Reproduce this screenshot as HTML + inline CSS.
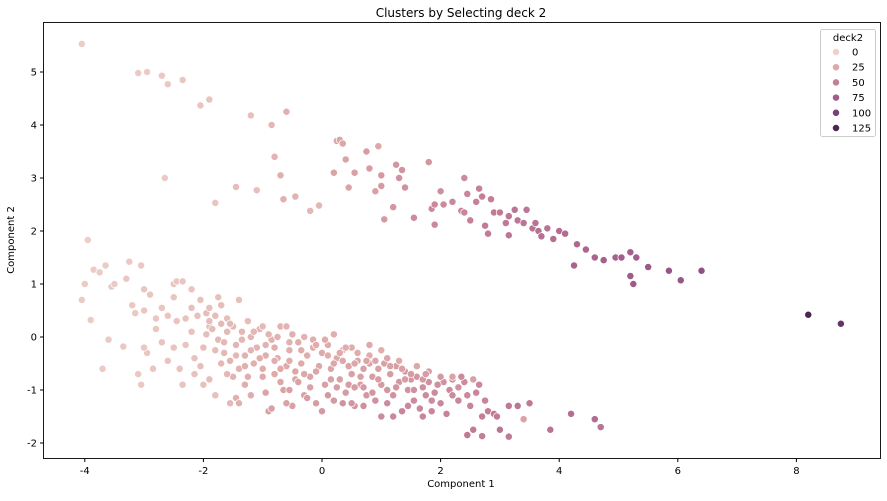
<!DOCTYPE html>
<html><head><meta charset="utf-8"><style>
body{margin:0;background:#fff;font-family:"Liberation Sans","DejaVu Sans",sans-serif;}
svg text{font-family:"DejaVu Sans","Liberation Sans",sans-serif;}
</style></head><body>
<svg id="chart" width="887" height="496">
<rect x="0" y="0" width="887" height="496" fill="#fff"/>
<text x="461" y="17" font-size="12" text-anchor="middle">Clusters by Selecting deck 2</text>
<text x="461" y="487" font-size="10" text-anchor="middle">Component 1</text>
<text x="14" y="240" font-size="10" text-anchor="middle" transform="rotate(-90 14 240)">Component 2</text>
<g id="ticks"></g>
<g id="points"></g>
<rect x="43.5" y="22.5" width="837" height="436" fill="none" stroke="#000" stroke-width="0.9"/>
<g id="legend"></g>
</svg>
<script>
const xTicks=[-4,-2,0,2,4,6,8];
const yTicks=[-2,-1,0,1,2,3,4,5];
const legendValues=[0,25,50,75,100,125];
const comp1=[-4.05,-3.1,-2.95,-2.7,-2.6,-2.35,-2.05,-1.9,-1.2,-0.85,-0.6,-2.65,-1.8,-1.45,-1.1,-0.8,-0.7,-0.65,-0.45,-0.2,-0.05,0.2,0.25,0.3,0.35,0.4,0.45,0.55,0.75,0.8,0.9,0.95,1.0,1.0,1.05,1.2,1.25,1.3,1.35,1.4,1.55,1.8,1.85,1.9,1.9,2.0,2.05,2.2,2.35,2.4,2.4,2.45,2.5,2.6,2.65,2.7,2.75,2.8,2.85,2.9,3.0,3.1,3.15,3.15,3.25,3.3,3.4,3.45,3.55,3.6,3.65,3.7,3.8,3.9,4.0,4.1,4.3,4.25,4.45,4.6,4.75,4.95,5.05,5.2,5.2,5.25,5.3,5.5,5.85,6.05,6.4,8.2,8.75,
-4.05,-4.0,-3.95,-3.9,-3.85,-3.75,-3.65,-3.7,-3.6,-3.55,-3.5,-3.35,-3.3,-3.25,-3.2,-3.15,-3.1,-3.05,-3.0,-3.0,-2.95,-2.9,-2.8,-2.7,-2.6,-2.5,-2.45,-2.3,-2.2,-2.5,-2.35,-2.15,-2.0,-1.9,-1.8,-1.7,
-1.95,-1.9,-1.85,-1.8,-1.75,-1.7,-1.65,-1.6,-1.55,-1.5,-1.45,-1.4,-1.35,-1.3,-1.25,-1.2,-1.15,-1.1,-1.05,-1.0,-0.95,-0.9,-0.85,-0.8,-0.75,-0.7,-0.65,-0.6,-0.55,-0.5,-0.45,-0.4,-0.35,-0.3,-0.25,-0.2,-0.15,-0.1,-0.05,0.0,0.05,0.1,0.15,0.2,0.25,0.3,0.35,0.4,0.45,0.5,0.55,0.6,0.65,0.7,0.75,0.8,0.85,0.9,0.95,1.0,1.05,1.1,1.15,1.2,1.25,1.3,1.35,1.4,1.45,1.5,1.55,1.6,1.65,1.7,1.75,1.8,1.85,1.9,2.0,2.05,2.1,2.15,2.2,2.3,2.4,2.5,2.6,2.65,2.7,2.8,
-1.45,-1.4,-1.5,-0.85,-0.6,-0.7,-1.2,0.0,0.5,1.0,1.7,2.35,2.9,3.0,2.95,3.15,3.3,3.5,2.45,2.55,2.7,3.15,3.4,3.85,4.2,4.6,4.7,
-1.0,-0.6,-0.3,0.2,0.5,0.8,1.0,1.3,1.6,2.2,2.55,-1.6,-1.25,-0.9,-0.55,-0.15,0.1,0.35,0.6,0.9,1.15,1.5,1.8,-2.1,-2.2,-1.95,-1.8,-2.0,-1.7,-1.45,-1.3,-1.05,-0.8,-0.45,-0.2,0.25,0.7,1.2,0.4,0.85,1.95,
-2.7,-2.6,-2.4,-2.05,-1.9,-2.5,-2.2,-2.3,-2.05,-1.9,-1.75,-3.05,-2.85,-1.55,-2.45,-2.35,-1.4,-1.1,-3.0,-2.8,-2.15,-1.6,
-1.55,-1.35,-1.15,-0.95,-0.75,-0.5,-0.35,-0.1,0.05,0.3,0.55,0.75,1.1,1.35,1.7,2.0,2.3,-1.3,-1.0,-0.7,-0.4,-0.1,0.15,0.45,0.65,0.95,1.25,1.55,1.85,2.2,-0.95,-0.55,-0.25,0.1,0.35,0.7,1.1,1.45,-1.65,-1.2,-0.8,-0.55,-0.3,0.2,0.55,0.8,1.4,1.75,2.45,2.75];
const comp2=[5.53,4.98,5.0,4.93,4.77,4.85,4.37,4.48,4.18,4.0,4.25,3.0,2.53,2.83,2.77,3.4,3.05,2.6,2.65,2.38,2.48,3.1,3.7,3.72,3.65,3.35,2.82,3.1,3.5,3.18,2.75,3.6,3.05,2.85,2.22,2.45,3.25,3.0,3.15,2.82,2.25,3.3,2.42,2.5,2.12,2.75,2.5,2.55,2.38,2.35,3.0,2.7,2.2,2.55,2.8,2.65,2.1,1.95,2.6,2.35,2.35,2.15,1.92,2.28,2.4,2.2,2.15,2.4,2.05,2.15,2.0,1.9,2.05,1.85,2.0,1.95,1.75,1.35,1.65,1.5,1.45,1.5,1.5,1.6,1.15,1.0,1.5,1.32,1.25,1.07,1.25,0.42,0.25,
0.7,1.0,1.83,0.32,1.27,1.22,1.35,-0.6,-0.05,0.95,1.0,-0.18,1.1,1.42,0.6,0.45,-0.7,1.35,0.9,0.5,-0.3,0.8,0.35,0.55,0.4,1.0,0.3,-0.15,0.1,-0.2,-0.9,-0.7,-0.9,0.2,-1.1,0.6,
0.45,0.3,0.15,0.4,-0.05,0.25,-0.3,0.1,-0.45,0.2,-0.15,-0.6,0.1,-0.35,-0.75,0.0,-0.5,-0.2,0.15,-0.6,-0.35,-1.4,-0.05,-0.7,-0.4,0.2,-1.0,-0.55,-0.25,-1.3,-0.8,-0.1,-0.5,-1.1,-0.35,-0.75,-0.2,-1.25,-0.55,-0.3,-0.9,-0.15,-0.6,-1.2,-0.4,-0.8,-0.25,-1.05,-0.55,-0.7,-1.3,-0.45,-0.9,-0.6,-1.1,-0.5,-0.75,-1.2,-0.6,-0.9,-0.5,-1.0,-0.7,-1.5,-0.55,-0.85,-1.4,-0.65,-1.0,-0.8,-1.2,-0.75,-1.35,-0.95,-1.1,-0.85,-1.4,-1.05,-1.25,-0.85,-1.45,-1.0,-0.8,-1.2,-0.85,-1.3,-1.05,-0.9,-1.5,-1.4,
-1.15,-1.25,-0.75,-1.35,-1.25,-0.85,-1.1,-1.4,-1.25,-1.5,-1.5,-0.75,-1.45,-1.75,-1.5,-1.3,-1.3,-1.25,-1.85,-1.75,-1.87,-1.88,-1.55,-1.75,-1.45,-1.55,-1.7,
0.2,0.2,0.0,0.05,-0.2,-0.35,-0.25,-0.45,-0.55,-0.75,-0.8,0.35,0.3,0.05,-0.1,-0.05,-0.35,-0.45,-0.3,-0.45,-0.55,-0.7,-0.65,0.4,0.55,0.05,-0.25,-0.2,-0.5,-0.35,-0.9,-0.4,-0.2,-0.65,-0.95,-0.95,-0.95,-1.1,-0.2,-1.05,-0.9,
-0.1,-0.45,-0.6,-0.55,-0.8,0.75,0.9,0.35,0.7,0.55,0.75,-0.9,-0.6,-1.25,1.05,1.05,0.7,-0.2,-0.2,0.15,-0.4,-0.7,
0.25,-0.05,0.1,-0.15,0.0,0.05,-0.25,-0.15,-0.05,-0.3,-0.5,-0.45,-0.4,-0.6,-0.8,-0.75,-0.95,-0.55,-0.75,-0.6,-0.85,-0.65,-0.8,-0.9,-0.75,-0.8,-0.95,-1.0,-1.2,-1.1,-1.05,-1.0,-1.15,-1.1,-1.25,-1.3,-1.25,-1.3,-0.1,-0.25,-0.45,-0.45,-0.7,-0.5,-0.95,-0.15,-0.8,-0.7,-1.1,-1.2];
const deck2=[2,4,4,5,5,6,7,8,10,16,20,4,7,12,10,18,20,20,18,15,16,28,26,27,26,28,28,30,32,32,30,26,34,34,34,36,36,38,37,38,42,36,42,44,44,40,42,44,46,46,42,46,48,48,48,50,52,52,50,52,52,54,55,55,56,56,57,55,58,58,60,60,58,62,62,64,66,70,68,70,72,72,74,72,76,76,74,78,82,80,86,125,112,
3,3,2,3,3,3,3,4,4,4,4,5,5,5,5,5,5,5,6,6,6,6,6,7,7,7,7,8,8,8,8,9,10,10,10,12,
12,12,13,12,14,14,15,14,17,15,17,19,15,18,21,17,20,18,17,22,21,30,19,24,22,18,28,24,21,30,26,21,24,30,22,27,22,32,25,24,30,22,27,34,25,30,24,33,28,30,36,27,32,30,35,28,32,38,30,34,30,36,33,44,32,35,45,33,38,36,42,36,44,39,42,38,45,42,44,38,47,42,40,45,42,47,45,44,50,50,
20,20,18,30,30,26,22,34,36,42,45,42,54,56,52,54,56,54,54,52,50,54,28,58,62,64,58,
14,17,19,21,22,22,21,24,26,28,30,11,12,17,19,21,22,25,22,27,28,33,30,10,10,11,12,11,14,15,21,20,20,26,28,32,33,38,22,36,40,
8,8,8,10,12,7,7,9,10,10,10,5,6,15,6,7,10,18,5,6,9,15,
14,16,16,19,19,20,22,22,22,24,26,27,27,30,34,34,38,20,24,24,28,27,30,32,30,32,36,38,42,42,28,30,32,34,38,40,42,44,15,17,21,22,25,26,32,24,32,33,44,46];

const stops=[[0,[238,208,200]],[25,[222,168,168]],[50,[196,126,152]],[75,[163,92,140]],[100,[123,63,122]],[125,[75,38,82]],[140,[50,25,60]]];
function hueColor(v){
  for(let i=0;i<stops.length-1;i++){
    const a=stops[i],b=stops[i+1];
    if(v<=b[0]||i===stops.length-2){
      let t=Math.max(0,Math.min(1,(v-a[0])/(b[0]-a[0])));
      return 'rgb('+a[1].map((c,k)=>Math.round(c+(b[1][k]-c)*t)).join(',')+')';
    }
  }
}
const xScale=v=>322+v*59.3;
const yScale=v=>337-v*53;
const NS='http://www.w3.org/2000/svg';
const tg=document.getElementById('ticks');
xTicks.forEach(t=>{
  const x=xScale(t);
  const l=document.createElementNS(NS,'line');
  l.setAttribute('x1',x);l.setAttribute('x2',x);l.setAttribute('y1',458.5);l.setAttribute('y2',462);l.setAttribute('stroke','#000');
  
  
  tg.appendChild(l);
  const s=document.createElementNS(NS,'text');
  s.setAttribute('x',x);s.setAttribute('y',474);s.setAttribute('font-size','10');s.setAttribute('text-anchor','middle');
  s.textContent=t;
  
  
  tg.appendChild(s);
});
yTicks.forEach(t=>{
  const y=yScale(t);
  const l=document.createElementNS(NS,'line');
  l.setAttribute('x1',40);l.setAttribute('x2',43.5);l.setAttribute('y1',y);l.setAttribute('y2',y);l.setAttribute('stroke','#000');
  
  
  tg.appendChild(l);
  const s=document.createElementNS(NS,'text');
  s.setAttribute('x',37);s.setAttribute('y',y+3.5);s.setAttribute('font-size','10');s.setAttribute('text-anchor','end');
  s.textContent=t;
  
  
  tg.appendChild(s);
});
const pg=document.getElementById('points');
const n=Math.min(comp1.length,comp2.length,deck2.length);
for(let i=0;i<n;i++){
  const c=document.createElementNS(NS,'circle');
  c.setAttribute('cx',xScale(comp1[i]));c.setAttribute('cy',yScale(comp2[i]));c.setAttribute('r',3.6);
  c.setAttribute('fill',hueColor(deck2[i]));c.setAttribute('stroke','#fff');c.setAttribute('stroke-width','0.7');
  
  
  pg.appendChild(c);
}
const lg=document.getElementById('legend');
const box=document.createElementNS(NS,'rect');
box.setAttribute('x',820.5);box.setAttribute('y',29.5);box.setAttribute('width',55);box.setAttribute('height',107);box.setAttribute('rx',2);
box.setAttribute('fill','#fff');box.setAttribute('fill-opacity','0.8');box.setAttribute('stroke','#ccc');


lg.appendChild(box);
const lt=document.createElementNS(NS,'text');
lt.setAttribute('x',848);lt.setAttribute('y',41);lt.setAttribute('font-size','10');lt.setAttribute('text-anchor','middle');lt.textContent='deck2';


lg.appendChild(lt);
legendValues.forEach((v,i)=>{
  const y=52+i*15.2;
  const c=document.createElementNS(NS,'circle');
  c.setAttribute('cx',836);c.setAttribute('cy',y);c.setAttribute('r',3.6);c.setAttribute('fill',hueColor(v));c.setAttribute('stroke','#fff');c.setAttribute('stroke-width','0.7');
  
  
  lg.appendChild(c);
  const s=document.createElementNS(NS,'text');
  s.setAttribute('x',852);s.setAttribute('y',y+3.5);s.setAttribute('font-size','10');s.textContent=v;
  
  
  lg.appendChild(s);
});
</script>
</body></html>
